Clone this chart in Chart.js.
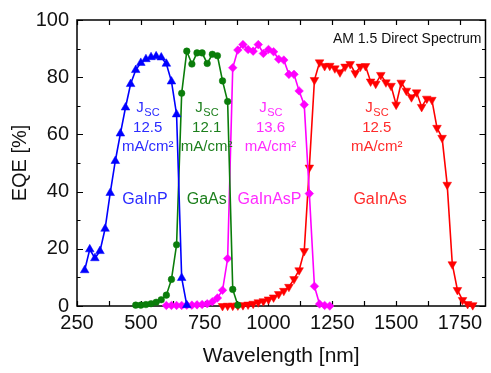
<!DOCTYPE html>
<html><head><meta charset="utf-8">
<script src="https://cdn.jsdelivr.net/npm/chart.js@4"></script>
<style>html,body{margin:0;padding:0;background:#fff}#wrap{width:491px;height:373px}</style>
</head><body><div id="wrap"><canvas id="c" width="491" height="373"></canvas></div>
<script>
// ---- data ----
const xTickLabels = [250, 500, 750, 1000, 1250, 1500, 1750];
const yTickLabels = [0, 20, 40, 60, 80, 100];

const gainpNm  = [280,300,320,340,360,380,400,420,440,460,480,500,520,540,560,580,600,620,640,660,680];
const gainpEqe = [12.5,19.8,16.7,19.2,27,39.5,50.7,60.3,69.4,77.6,82.5,85,86.3,87,87.3,86.9,84.7,78.5,67,9.8,0.3];

const gaasNm  = [480,500,520,540,560,580,600,620,640,660,680,700,720,740,760,780,800,820,840,860,880];
const gaasEqe = [0.3,0.3,0.5,0.8,1.3,2.2,3.8,9.3,21.4,74.4,89.1,84.6,88.5,88.5,84.8,88,87.5,78.7,71.5,5.8,0.3];

const gainaspNm  = [600,620,640,660,680,700,720,740,760,780,800,820,840,860,880,900,920,940,960,980,1000,1020,1040,1060,1080,1100,1120,1140,1160,1180,1200,1220,1240];
const gainaspEqe = [0.2,0.2,0.2,0.2,0.3,0.3,0.4,0.5,0.8,1.5,2.8,5.5,16.6,83.3,89.5,91.4,89.7,89.1,91.4,88.3,89.7,88.9,86.3,86,81,81,75.2,70.4,39.3,6.9,0.7,0.2,0];

const gainasNm  = [820,840,860,880,900,920,940,960,980,1000,1020,1040,1060,1080,1100,1120,1140,1160,1180,1200,1220,1240,1260,1280,1300,1320,1340,1360,1380,1400,1420,1440,1460,1480,1500,1520,1540,1560,1580,1600,1620,1640,1660,1680,1700,1720,1740,1760,1780,1800];
const gainasEqe = [0,0.1,0.1,0.2,0.3,0.5,0.8,1.3,1.7,2.3,3,4.2,5.3,6.7,9.4,12.5,19.2,48.4,79,85.2,83.9,84,83.1,81.7,83.7,84.6,81.4,83.7,83.9,78.5,77.7,80.8,78.2,77,70.4,78.1,75.3,73,74.7,69.6,72.5,72.1,62.3,58.8,42.4,14.6,5.6,2.1,0.7,0.3];

const cellNames = ['GaInP', 'GaAs', 'GaInAsP', 'GaInAs'];
const jscValues = ['12.5', '12.1', '13.6', '12.5'];
const spectrumLabel = 'AM 1.5 Direct Spectrum';

// ---- build ----
const FONT = "'Liberation Sans', Arial, sans-serif";
const pts = (xs, ys) => xs.map((x, i) => ({x, y: ys[i]}));
const colors = ['#0000ff', '#0a7d0a', '#ff00ff', '#ff0000'];
const textColors = ['#2b2bff', '#1c7f1c', '#ff2bff', '#ff2a2a'];

function ds(label, xs, ys, color, style, r, rot) {
  return {label, data: pts(xs, ys), borderColor: color, backgroundColor: color,
    borderWidth: 1.6, pointStyle: style, pointRadius: r, pointRotation: rot || 0,
    pointBorderWidth: 0.5, pointHoverRadius: r, tension: 0, clip: false, fill: false, showLine: true};
}

const labelPlacement = [ // [nm for Jsc block, nm for name] (layout only)
  [527, 516], [758, 758], [1008, 1004], [1424, 1437]
];

const framePlugin = {
  id: 'frame',
  beforeDatasetsDraw(chart) {
    const {ctx, chartArea: a, scales: {x, y}} = chart;
    ctx.save();
    ctx.strokeStyle = '#000';
    ctx.lineWidth = 1.5;
    ctx.strokeRect(a.left, a.top, a.right - a.left, a.bottom - a.top);
    ctx.lineWidth = 1.2;
    ctx.beginPath();
    for (let v = 250; v <= 1850; v += 125) {
      const px = Math.round(x.getPixelForValue(v)) + 0.5;
      ctx.moveTo(px, a.bottom); ctx.lineTo(px, a.bottom - 5);
      ctx.moveTo(px, a.top); ctx.lineTo(px, a.top + 5);
    }
    for (let v = 0; v <= 100; v += 10) {
      const py = Math.round(y.getPixelForValue(v)) + 0.5;
      const len = (v % 20 === 0) ? 6 : 3.5;
      ctx.moveTo(a.left, py); ctx.lineTo(a.left + len, py);
      ctx.moveTo(a.right, py); ctx.lineTo(a.right - len, py);
    }
    ctx.stroke();
    ctx.restore();
  },
  afterDatasetsDraw(chart) {
    const {ctx, chartArea: a, scales: {x, y}} = chart;
    ctx.save();
    ctx.textBaseline = 'middle';
    ctx.fillStyle = '#111';
    ctx.font = '14px ' + FONT;
    ctx.textAlign = 'right';
    ctx.fillText(spectrumLabel, a.right - 4, a.top + 19);
    for (let i = 0; i < cellNames.length; i++) {
      ctx.fillStyle = textColors[i];
      const jx = x.getPixelForValue(labelPlacement[i][0]);
      const nx = x.getPixelForValue(labelPlacement[i][1]);
      ctx.font = '15px ' + FONT;
      const wJ = ctx.measureText('J').width;
      ctx.font = '11px ' + FONT;
      const wS = ctx.measureText('SC').width;
      const start = jx - (wJ + wS) / 2;
      const yJ = y.getPixelForValue(69);
      ctx.textAlign = 'left';
      ctx.font = '15px ' + FONT;
      ctx.fillText('J', start, yJ - 1);
      ctx.font = '11px ' + FONT;
      ctx.fillText('SC', start + wJ + 0.5, yJ + 4);
      ctx.textAlign = 'center';
      ctx.font = '15px ' + FONT;
      ctx.fillText(jscValues[i], jx, y.getPixelForValue(62.3));
      ctx.fillText('mA/cm\u00B2', jx, y.getPixelForValue(55.7));
      ctx.font = '16px ' + FONT;
      ctx.fillText(cellNames[i], nx, y.getPixelForValue(37.3));
    }
    ctx.restore();
  }
};

new Chart(document.getElementById('c'), {
  type: 'scatter',
  data: {datasets: [
    ds('GaInP', gainpNm, gainpEqe, colors[0], 'triangle', 5),
    ds('GaAs', gaasNm, gaasEqe, colors[1], 'circle', 3.3),
    ds('GaInAsP', gainaspNm, gainaspEqe, colors[2], 'rectRot', 4.3),
    ds('GaInAs', gainasNm, gainasEqe, colors[3], 'triangle', 5, 180)
  ]},
  options: {
    responsive: false, devicePixelRatio: 1, animation: false,
    layout: {padding: {top: 18, right: 4, left: 0, bottom: 0}},
    plugins: {legend: {display: false}, tooltip: {enabled: false}},
    scales: {
      x: {type: 'linear', min: 250, max: 1850,
        afterBuildTicks: s => { s.ticks = xTickLabels.map(v => ({value: v})); },
        afterFit: s => { s.height = 67; },
        grid: {display: false, drawTicks: false}, border: {display: false},
        ticks: {font: {family: FONT, size: 20}, color: '#111', padding: 5, maxRotation: 0, autoSkip: false,
          callback: v => String(v)},
        title: {display: true, text: 'Wavelength [nm]', color: '#111', font: {family: FONT, size: 21}, padding: {top: 0, bottom: 4}}
      },
      y: {type: 'linear', min: 0, max: 100,
        afterBuildTicks: s => { s.ticks = yTickLabels.map(v => ({value: v})); },
        afterFit: s => { s.width = 77; },
        grid: {display: false, drawTicks: false}, border: {display: false},
        ticks: {font: {family: FONT, size: 20}, color: '#111', padding: 8, callback: v => String(v)},
        title: {display: true, text: 'EQE [%]', color: '#111', font: {family: FONT, size: 20}, padding: {top: 8, bottom: 0}}
      }
    }
  },
  plugins: [framePlugin]
});
</script>
</body></html>
